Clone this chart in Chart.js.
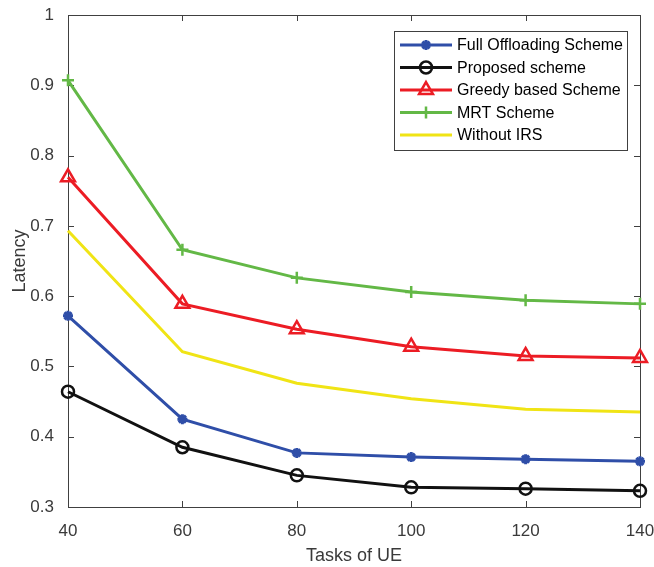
<!DOCTYPE html>
<html>
<head>
<meta charset="utf-8">
<script src="https://cdn.jsdelivr.net/npm/chart.js@4/dist/chart.umd.min.js"></script>
<style>
  html, body { margin: 0; padding: 0; background: #fff; }
  canvas { display: block; }
</style>
</head>
<body>
<canvas id="latencyChart" width="654" height="567"></canvas>
<script>
// x axis: number of tasks
const tasks = [40, 60, 80, 100, 120, 140];

// latency per scheme
const fullOffloading = [0.572, 0.425, 0.377, 0.371, 0.368, 0.365];
const proposed = [0.464, 0.385, 0.345, 0.328, 0.326, 0.323];
const greedy = [0.769, 0.589, 0.553, 0.528, 0.515, 0.512];
const mrt = [0.907, 0.666, 0.626, 0.606, 0.594, 0.589];
const withoutIrs = [0.693, 0.521, 0.476, 0.454, 0.439, 0.435];

const yTicks = [0.3, 0.4, 0.5, 0.6, 0.7, 0.8, 0.9, 1];

const FONT = "'Liberation Sans', Arial, Helvetica, sans-serif";
const AXIS_COLOR = '#404040';

function toPoints(values) {
    return tasks.map((t, i) => ({ x: t, y: values[i] }));
}

// box around the plot + MATLAB style inward ticks
const boxPlugin = {
    id: 'box',
    beforeDatasetsDraw(chart) {
        const { ctx, chartArea: a, scales } = chart;
        ctx.save();
        ctx.strokeStyle = AXIS_COLOR;
        ctx.lineWidth = 1;
        ctx.strokeRect(Math.round(a.left) + 0.5, Math.round(a.top) + 0.5,
            Math.round(a.right - a.left), Math.round(a.bottom - a.top));
        const len = 6;
        ctx.beginPath();
        tasks.forEach(t => {
            const x = Math.round(scales.x.getPixelForValue(t)) + 0.5;
            ctx.moveTo(x, a.bottom); ctx.lineTo(x, a.bottom - len);
            ctx.moveTo(x, a.top); ctx.lineTo(x, a.top + len);
        });
        yTicks.forEach(v => {
            const y = Math.round(scales.y.getPixelForValue(v)) + 0.5;
            ctx.moveTo(a.left, y); ctx.lineTo(a.left + len, y);
            ctx.moveTo(a.right, y); ctx.lineTo(a.right - len, y);
        });
        ctx.stroke();
        ctx.restore();
    }
};

// legend box drawn inside the plot, top right
const legendPlugin = {
    id: 'insideLegend',
    afterDraw(chart) {
        const ctx = chart.ctx;
        const box = { left: 394, top: 31, right: 627, bottom: 150 };
        ctx.save();
        ctx.fillStyle = '#fff';
        ctx.fillRect(box.left, box.top, box.right - box.left, box.bottom - box.top);
        ctx.strokeStyle = AXIS_COLOR;
        ctx.lineWidth = 1;
        ctx.strokeRect(box.left + 0.5, box.top + 0.5, box.right - box.left, box.bottom - box.top);
        ctx.font = '16px ' + FONT;
        ctx.textBaseline = 'middle';
        chart.data.datasets.forEach((ds, i) => {
            const y = box.top + 14 + i * 22.5;
            ctx.strokeStyle = ds.borderColor;
            ctx.lineWidth = ds.borderWidth;
            ctx.beginPath();
            ctx.moveTo(box.left + 6, y);
            ctx.lineTo(box.left + 58, y);
            ctx.stroke();
            if (ds.pointRadius > 0) {
                ctx.fillStyle = ds.pointBackgroundColor;
                ctx.strokeStyle = ds.borderColor;
                ctx.lineWidth = ds.pointBorderWidth;
                Chart.helpers.drawPoint(ctx, {
                    pointStyle: ds.pointStyle,
                    radius: ds.pointRadius,
                    borderWidth: ds.pointBorderWidth,
                    rotation: 0
                }, box.left + 32, y);
            }
            ctx.fillStyle = '#000';
            ctx.fillText(ds.label, box.left + 63, y + 1);
        });
        ctx.restore();
    }
};

const ctx = document.getElementById('latencyChart').getContext('2d');

new Chart(ctx, {
    type: 'line',
    data: {
        datasets: [{
            label: 'Full Offloading Scheme',
            data: toPoints(fullOffloading),
            borderColor: '#2f4ea8',
            borderWidth: 3,
            pointStyle: 'star',
            pointRadius: 5,
            pointBorderWidth: 3,
            pointBackgroundColor: '#2f4ea8'
        }, {
            label: 'Proposed scheme',
            data: toPoints(proposed),
            borderColor: '#111111',
            borderWidth: 3,
            pointStyle: 'circle',
            pointRadius: 6,
            pointBorderWidth: 2.5,
            pointBackgroundColor: 'rgba(0,0,0,0)'
        }, {
            label: 'Greedy based Scheme',
            data: toPoints(greedy),
            borderColor: '#ec1c24',
            borderWidth: 3,
            pointStyle: 'triangle',
            pointRadius: 8,
            pointBorderWidth: 2.5,
            pointBackgroundColor: 'rgba(0,0,0,0)'
        }, {
            label: 'MRT Scheme',
            data: toPoints(mrt),
            borderColor: '#63b846',
            borderWidth: 3,
            pointStyle: 'cross',
            pointRadius: 6,
            pointBorderWidth: 2.5,
            pointBackgroundColor: '#63b846'
        }, {
            label: 'Without IRS',
            data: toPoints(withoutIrs),
            borderColor: '#f0e415',
            borderWidth: 3,
            pointRadius: 0,
            pointBorderWidth: 0,
            pointBackgroundColor: '#f0e415'
        }]
    },
    options: {
        responsive: false,
        animation: false,
        datasets: { line: { clip: false } },
        layout: { padding: { top: 15, right: 14, left: 0, bottom: 0 } },
        plugins: {
            legend: { display: false },
            tooltip: { enabled: false }
        },
        scales: {
            x: {
                type: 'linear',
                min: 40,
                max: 140,
                afterBuildTicks: axis => { axis.ticks = tasks.map(v => ({ value: v })); },
                afterFit: axis => {
                    axis.height = 60;
                    axis.paddingLeft = 0;
                    axis.paddingRight = 0;
                },
                grid: { display: false },
                border: { display: false },
                ticks: {
                    color: '#3a3a3a',
                    padding: 6,
                    maxRotation: 0,
                    font: { family: FONT, size: 17 }
                },
                title: {
                    display: true,
                    text: 'Tasks of UE',
                    color: '#3a3a3a',
                    padding: { top: 0, bottom: 0 },
                    font: { family: FONT, size: 18 }
                }
            },
            y: {
                min: 0.3,
                max: 1,
                afterBuildTicks: axis => { axis.ticks = yTicks.map(v => ({ value: v })); },
                afterFit: axis => {
                    axis.width = 68;
                    axis.paddingTop = 0;
                    axis.paddingBottom = 0;
                },
                grid: { display: false },
                border: { display: false },
                ticks: {
                    color: '#3a3a3a',
                    padding: 6,
                    font: { family: FONT, size: 17 },
                    callback: v => String(Number(v.toFixed(1)))
                },
                title: {
                    display: true,
                    text: 'Latency',
                    color: '#3a3a3a',
                    padding: { top: 9, bottom: 0 },
                    font: { family: FONT, size: 18 }
                }
            }
        }
    },
    plugins: [boxPlugin, legendPlugin]
});
</script>
</body>
</html>
